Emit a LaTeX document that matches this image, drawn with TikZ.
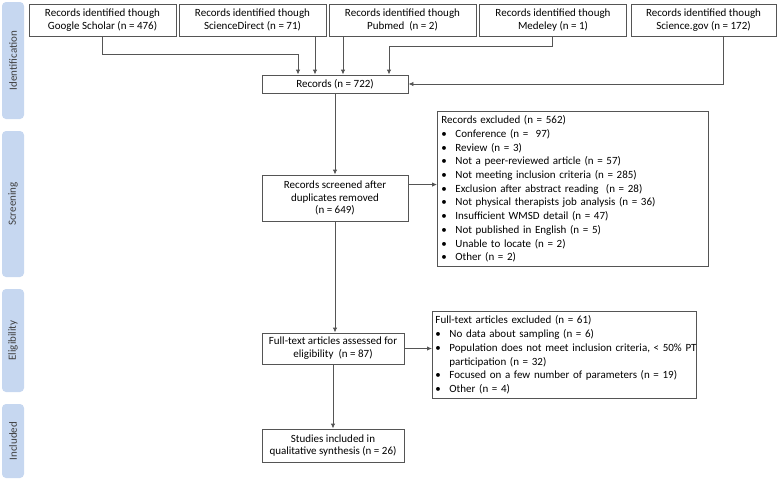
\documentclass[tikz,border=0pt]{standalone}
\usepackage{fontspec}
\setmainfont{Carlito}
\usepackage{tikz}
\usetikzlibrary{arrows.meta}

\definecolor{boxgray}{RGB}{85,85,85}
\definecolor{phaseblue}{RGB}{198,215,240}
\definecolor{labelgray}{RGB}{64,64,64}

\newcommand{\listdot}{\makebox[14pt][l]{\textbullet}}

\begin{document}
\begin{tikzpicture}[
  x=1pt, y=-1pt,
  line width=0.9pt,
  font=\fontsize{11}{12.8}\selectfont,
  mybox/.style={
    draw=boxgray,
    rectangle,
    align=center,
    inner sep=1pt
    },
  mylist/.style={
    draw=boxgray,
    rectangle,
    anchor=north west,
    align=left,
    inner xsep=4pt,
    inner ysep=3pt,
    font=\fontsize{11}{13.7}\selectfont
    },
  myphase/.style={
    fill=phaseblue,
    rounded corners=4pt,
    rotate=90,
    minimum height=22pt,
    text=labelgray
    },
  myarrow/.style={
    draw=boxgray,
    -{Latex[length=5pt,width=4.5pt]}
    }
]
\useasboundingbox (0,0) rectangle (777,480);

% phases
\node[myphase, minimum width=117pt] (ident) at (13,60.5) {Identification};
\node[myphase, minimum width=146pt] (screen) at (13,204) {Screening};
\node[myphase, minimum width=103pt] (elig) at (13,340.5) {Eligibility};
\node[myphase, minimum width=74pt] (incl) at (13,441) {Included};

% sources
\node[mybox, minimum width=147pt, minimum height=32pt] (gscholar) at (102.5,20)
  {Records identified though\\Google Scholar (n = 476)};
\node[mybox, minimum width=147pt, minimum height=32pt] (sdirect) at (252.5,20)
  {Records identified though\\ScienceDirect (n = 71)};
\node[mybox, minimum width=147pt, minimum height=32pt] (pubmed) at (402.5,20)
  {Records identified though\\Pubmed~ (n = 2)};
\node[mybox, minimum width=147pt, minimum height=32pt] (medeley) at (553,20)
  {Records identified though\\Medeley (n = 1)};
\node[mybox, minimum width=145pt, minimum height=32pt] (scigov) at (703.5,20)
  {Records identified though\\Science.gov (n = 172)};

% main column
\node[mybox, minimum width=146pt, minimum height=18pt] (records) at (335,84)
  {Records (n = 722)};
\node[mybox, minimum width=146pt, minimum height=46pt] (screened) at (335,198)
  {Records screened after\\duplicates removed\\(n = 649)};
\node[mybox, minimum width=142pt, minimum height=31pt] (fulltext) at (333,348.5)
  {Full-text articles assessed for\\eligibility~ (n = 87)};
\node[mybox, minimum width=142pt, minimum height=33pt] (included) at (333,445.5)
  {Studies included in\\qualitative synthesis (n = 26)};

% exclusions
\node[mylist, text width=263pt, minimum height=155pt] (excl) at (437,111)
  {Records excluded (n = 562)\\
  \listdot Conference (n = ~97)\\
  \listdot Review (n = 3)\\
  \listdot Not a peer-reviewed article (n = 57)\\
  \listdot Not meeting inclusion criteria (n = 285)\\
  \listdot Exclusion after abstract reading~ (n = 28)\\
  \listdot Not physical therapists job analysis (n = 36)\\
  \listdot Insufficient WMSD detail (n = 47)\\
  \listdot Not published in English (n = 5)\\
  \listdot Unable to locate (n = 2)\\
  \listdot Other (n = 2)};
\node[mylist, inner xsep=3pt, text width=258pt, minimum height=87pt] (exclft) at (432,311)
  {Full-text articles excluded (n = 61)\\
  \listdot No data about sampling (n = 6)\\
  \listdot \mbox{Population does not meet inclusion criteria, < 50\% PT}\\
  \hspace*{14pt}participation (n = 32)\\
  \listdot Focused on a few number of parameters (n = 19)\\
  \listdot Other (n = 4)};

% arrows
\coordinate (in1) at ([xshift=-37pt]records.north);
\coordinate (in2) at ([xshift=-20pt]records.north);
\coordinate (in3) at ([xshift=8pt]records.north);
\coordinate (in4) at ([xshift=54pt]records.north);
\coordinate (out1) at ([yshift=-10pt]screened.north east);

\draw[myarrow] (gscholar.south) -- ++(0,18) -| (in1);
\draw[myarrow] (in2 |- sdirect.south) -- (in2);
\draw[myarrow] (in3 |- pubmed.south) -- (in3);
\draw[myarrow] ([xshift=-1pt]medeley.south) -- ++(0,10) -| (in4);
\draw[myarrow] ([xshift=20pt]scigov.south) |- (records.east);
\draw[myarrow] (records) -- (screened);
\draw[myarrow] (out1) -- (out1 -| excl.west);
\draw[myarrow] (screened) -- (screened |- fulltext.north);
\draw[myarrow] (fulltext) -- (fulltext -| exclft.west);
\draw[myarrow] (fulltext) -- (included);

\end{tikzpicture}
\end{document}
